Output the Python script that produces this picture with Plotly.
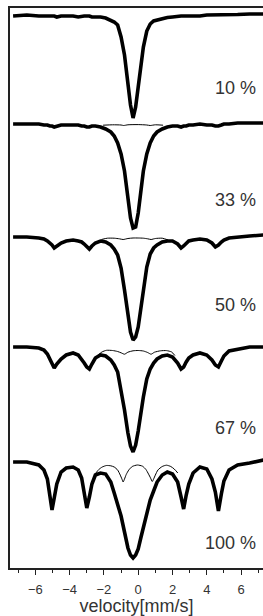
import plotly.graph_objects as go

# Common velocity grid (mm/s)
velocity = [-7.3, -6.5, -5.8, -5.5, -5.3, -5.15, -5.03, -4.9, -4.75, -4.5, -4.2, -3.8, -3.5, -3.3,
            -3.15, -3.0, -2.85, -2.7, -2.5, -2.2, -1.9, -1.6, -1.4, -1.2, -1.0, -0.8, -0.6, -0.45,
            -0.3, -0.15, 0.0, 0.15, 0.3, 0.5, 0.7, 0.9, 1.1, 1.4, 1.7, 2.0, 2.3, 2.5, 2.65, 2.8,
            2.95, 3.2, 3.6, 4.0, 4.3, 4.5, 4.68, 4.85, 5.0, 5.3, 5.8, 6.5, 7.3]

# Absorption (%)
abs_10 = [0.0, -0.1, 0.0, 0.0, 0.0, 0.0, 0.0, 0.0, 0.1, 0.0, 0.0, 0.0, 0.1, 0.0,
          0.0, 0.0, 0.0, 0.1, 0.1, 0.1, 0.2, 0.4, 0.6, 0.9, 2.1, 3.9, 6.8, 8.9,
          10.2, 9.1, 7.1, 4.8, 3.1, 1.5, 0.8, 0.5, 0.4, 0.25, 0.15, 0.1, 0.0, 0.0, 0.0, 0.0,
          0.0, -0.05, 0.0, -0.1, -0.1, -0.1, -0.1, -0.1, -0.15, -0.1, -0.15, -0.2, -0.2]
abs_33 = [0.0, 0.0, 0.0, 0.1, 0.1, 0.2, 0.2, 0.3, 0.2, 0.1, 0.1, 0.1, 0.1, 0.2,
          0.2, 0.3, 0.3, 0.2, 0.2, 0.3, 0.5, 0.8, 1.2, 1.9, 3.0, 4.7, 7.6, 9.4,
          10.4, 10.3, 8.9, 6.8, 4.7, 3.0, 1.9, 1.2, 0.8, 0.5, 0.3, 0.2, 0.2, 0.3, 0.2, 0.2,
          0.1, 0.1, 0.0, 0.1, 0.1, 0.2, 0.2, 0.1, 0.0, 0.0, -0.1, -0.1, -0.1]
abs_50 = [0.0, 0.0, 0.1, 0.2, 0.4, 0.6, 0.8, 1.1, 0.9, 0.6, 0.4, 0.3, 0.4, 0.5,
          0.7, 0.9, 1.2, 0.9, 0.6, 0.4, 0.5, 0.8, 1.2, 1.8, 3.1, 5.3, 8.0, 9.5,
          10.3, 10.0, 9.0, 7.2, 5.1, 3.0, 1.7, 1.1, 0.8, 0.5, 0.4, 0.4, 0.7, 1.1, 0.9, 0.6,
          0.4, 0.3, 0.2, 0.3, 0.6, 1.0, 0.8, 0.5, 0.3, 0.1, 0.0, -0.1, -0.2]
abs_67 = [0.0, 0.0, 0.1, 0.3, 0.7, 1.2, 1.7, 2.1, 1.7, 1.2, 0.8, 0.6, 0.8, 1.2,
          1.6, 2.0, 2.2, 1.7, 1.1, 0.8, 0.9, 1.3, 1.8, 2.5, 4.2, 6.3, 8.6, 9.9,
          10.5, 9.8, 8.4, 6.6, 5.0, 3.2, 2.2, 1.6, 1.2, 0.9, 0.8, 1.0, 1.6, 2.2, 2.0, 1.5,
          1.1, 0.8, 0.6, 0.8, 1.3, 1.8, 2.0, 1.4, 0.9, 0.4, 0.2, 0.0, 0.0]
abs_100 = [0.0, 0.0, 0.3, 0.8, 1.7, 3.3, 4.8, 3.6, 2.2, 1.0, 0.6, 0.5, 0.8, 1.6,
           3.0, 4.6, 3.5, 2.2, 1.3, 1.1, 1.2, 2.0, 3.1, 4.3, 5.4, 7.0, 8.6, 9.3,
           9.6, 9.3, 8.7, 7.6, 6.5, 5.0, 3.8, 2.9, 2.0, 1.3, 1.0, 1.2, 2.0, 3.5, 4.7, 3.3,
           2.2, 1.1, 0.5, 0.7, 1.7, 3.0, 4.9, 3.2, 1.9, 0.8, 0.3, 0.1, -0.2]

# Fitted sextet sub-spectra (central region)
fit_v_33 = [-2.05, -1.5, -1.0, -0.85, -0.6, 0.0, 0.5, 0.7, 1.0, 1.45]
fit_abs_33 = [0.12, 0.08, 0.1, 0.15, 0.08, 0.06, 0.1, 0.15, 0.08, 0.12]
fit_v_50 = [-2.15, -1.8, -1.4, -1.1, -0.88, -0.6, -0.3, 0.0, 0.3, 0.55, 0.75, 1.0, 1.4, 1.75]
fit_abs_50 = [0.25, 0.12, 0.12, 0.18, 0.25, 0.15, 0.1, 0.1, 0.12, 0.18, 0.25, 0.15, 0.12, 0.3]
fit_v_67 = [-2.33, -2.12, -1.85, -1.5, -1.2, -1.0, -0.8, -0.6, -0.3, 0.0, 0.3, 0.55, 0.75, 0.95,
            1.3, 1.65, 1.95, 2.14]
fit_abs_67 = [0.8, 0.5, 0.33, 0.35, 0.45, 0.58, 0.72, 0.52, 0.38, 0.35, 0.4, 0.55, 0.72, 0.52,
              0.38, 0.36, 0.5, 0.85]
fit_v_100 = [-2.47, -2.3, -2.1, -1.85, -1.6, -1.4, -1.2, -1.05, -0.95, -0.88, -0.8, -0.7, -0.55,
             -0.35, -0.05, 0.25, 0.45, 0.6, 0.72, 0.82, 0.9, 1.0, 1.15, 1.4, 1.65, 1.9, 2.1, 2.31]
fit_abs_100 = [1.1, 0.75, 0.5, 0.35, 0.38, 0.5, 0.8, 1.3, 1.7, 2.0, 1.7, 1.25, 0.8,
               0.45, 0.3, 0.42, 0.75, 1.2, 1.6, 1.95, 1.7, 1.3, 0.8, 0.45, 0.32, 0.45, 0.7, 1.1]

labels = ["10 %", "33 %", "50 %", "67 %", "100 %"]

# layout constants (vertical stacking offsets and label heights, in axis units)
offsets = [0.0, -10.8, -22.1, -33.1, -44.6]
label_y = [-7.23, -18.4, -28.9, -41.2, -52.7]

spectra = [abs_10, abs_33, abs_50, abs_67, abs_100]
fits = [None, (fit_v_33, fit_abs_33), (fit_v_50, fit_abs_50), (fit_v_67, fit_abs_67),
        (fit_v_100, fit_abs_100)]

fig = go.Figure()
for spec, off, fit in zip(spectra, offsets, fits):
    fig.add_trace(go.Scatter(x=velocity, y=[off - a for a in spec], mode="lines",
                             line=dict(color="black", width=3.6), hoverinfo="skip"))
    if fit is not None:
        fv, fa = fit
        fig.add_trace(go.Scatter(x=fv, y=[off - a for a in fa], mode="lines",
                                 line=dict(color="black", width=1, shape="spline", smoothing=0.6),
                                 hoverinfo="skip"))

for lab, ly in zip(labels, label_y):
    fig.add_annotation(x=0.980, xref="paper", xanchor="right", y=ly, yref="y", yanchor="middle",
                       text=lab, showarrow=False,
                       font=dict(family="Liberation Sans, Arial", size=18, color="#333333"))

fig.update_layout(
    width=263, height=616,
    margin=dict(l=10, r=0, t=8, b=48),
    paper_bgcolor="white", plot_bgcolor="white",
    showlegend=False,
    font=dict(family="Liberation Sans, Arial", color="#333333"),
    xaxis=dict(range=[-7.48, 7.28], tick0=0, dtick=2, ticks="outside", ticklen=5, tickwidth=1.2,
               tickcolor="#222222", showline=True, linecolor="#222222", linewidth=1.5, mirror=True,
               showgrid=False, zeroline=False, tickfont=dict(size=13, color="#333333"),
               ticklabelstandoff=4,
               minor=dict(dtick=1, tick0=0, ticks="outside", ticklen=3, tickwidth=1.2,
                          tickcolor="#222222", showgrid=False),
               title=dict(text="velocity[mm/s]", font=dict(size=18, color="#333333"), standoff=3)),
    yaxis=dict(range=[-55.2, 0.8], showline=True, linecolor="#222222", linewidth=1.5, mirror=False,
               showticklabels=False, ticks="", showgrid=False, zeroline=False),
)

fig.write_html("out.html", config={"displayModeBar": False},
               post_script="document.body.style.margin='0';document.body.style.overflow='hidden';")
